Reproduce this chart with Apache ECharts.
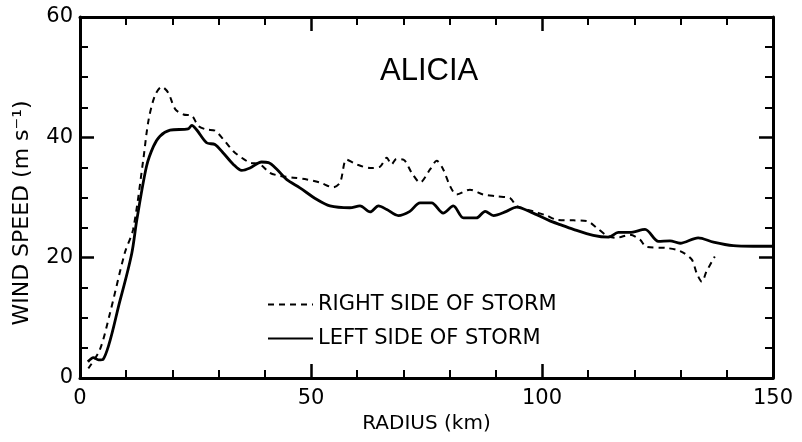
<!DOCTYPE html>
<html>
<head>
<meta charset="utf-8">
<script src="https://cdn.jsdelivr.net/npm/echarts@6/dist/echarts.min.js"></script>
<style>html,body{margin:0;padding:0;background:#fff;}#c{width:802px;height:442px;}</style>
</head>
<body>
<div id="c"></div>
<script>
const titleText = 'ALICIA';
const xTitle = 'RADIUS (km)';
const yTitle = 'WIND SPEED (m s\u207B\u00B9)';
const rightName = 'RIGHT SIDE OF STORM';
const leftName = 'LEFT SIDE OF STORM';

const rightX = [1.8,4.3,6.5,9.7,11.5,13.7,14.8,16.2,17.7,19.1,20.6,22.4,24.2,25.6,27.4,29.2,31,33.2,35,36.8,39,41.1,43.3,46.2,49.1,51.9,54.8,56.3,57.7,59.9,62.8,64.9,66.4,67.4,68.5,70,71.8,73.6,75.8,77.2,78.6,80.1,81.5,84.4,87.3,90.2,93.1,94.5,98.1,101,103.2,106.8,109.7,111.8,114,116.1,119,121.2,122.6,127,129.9,132.4,133.5,134.6,135.6,137.4];
const rightY = [1.6,4.7,10.8,20.8,24.7,36.3,42.7,46.9,48.4,47.4,44.7,43.8,43.6,41.9,41.3,41.1,39.7,37.7,36.6,35.8,35.5,34.1,33.6,33.3,33,32.5,31.7,32.5,36.3,35.5,34.9,35.1,36.6,35.5,36.4,36.3,34.1,32.5,34.7,36.1,34.7,31.9,30.5,31.3,30.5,30.2,29.9,28.6,27.7,27,26.3,26.2,26.1,25,23.7,23.3,23.8,23,21.8,21.6,21.1,19.7,17.4,16,17.7,20.2];

const leftX = [1.7,2.9,4,5,8.7,11.2,12.3,14.4,15.9,17.3,19.5,23.4,24.2,25.2,27.4,29.2,31,33.2,35,36.8,39.3,40.8,42.6,44.7,47.6,51.2,54.1,58.4,60.6,62.8,64.6,66.4,68.9,71.4,73.6,76.1,78.6,80.8,83,85.8,87.7,89.5,92.3,94.5,98.1,101.5,103.9,106.8,111.1,114.4,116.5,119,122.3,125.2,127.7,129.9,133.8,137.1,141.4,145.7,150];
const leftY = [2.7,3.4,3,3.1,13,20.7,26.3,35.2,38.5,40.2,41.2,41.4,42,41.3,39.1,38.8,37.4,35.5,34.5,34.9,35.9,35.8,34.7,33,31.6,29.7,28.6,28.3,28.6,27.6,28.6,28,27,27.7,29.1,29.1,27.4,28.6,26.6,26.6,27.7,27,27.7,28.4,27.4,26.2,25.5,24.7,23.7,23.4,24.2,24.2,24.7,22.7,22.8,22.4,23.3,22.6,22,21.9,21.9];

const xTicks = {min: 0, max: 150, interval: 50};
const yTicks = {min: 0, max: 60, interval: 20};

const FONT = 'DejaVu Sans';
const rightData = rightX.map((x, i) => [x, rightY[i]]);
const leftData = leftX.map((x, i) => [x, leftY[i]]);

function axisCommon(showLabel, minorSplit, margin) {
  return {
    axisLine: {show: true, onZero: false, lineStyle: {color: '#000', width: 3}},
    axisTick: {show: true, inside: true, length: 14, lineStyle: {color: '#000', width: 2.5}},
    minorTick: {show: true, splitNumber: minorSplit, length: 8, lineStyle: {color: '#000', width: 2}},
    splitLine: {show: false},
    axisLabel: {show: showLabel, color: '#000', fontSize: 21, fontFamily: FONT, margin: margin}
  };
}

const chart = echarts.init(document.getElementById('c'));
chart.setOption({
  animation: false,
  backgroundColor: '#fff',
  grid: {left: 80, right: 29, top: 17, bottom: 64},
  graphic: [
    {type: 'text', left: 380, top: 56,
      style: {text: titleText, fontSize: 31, fontFamily: 'Liberation Sans', fill: '#000'}},
    {type: 'text', x: 22, y: 213, rotation: Math.PI / 2,
      style: {text: yTitle, fontSize: 22, fontFamily: FONT, fill: '#000', align: 'center', verticalAlign: 'middle'}}
  ],
  legend: {
    orient: 'vertical', left: 262, top: 289, itemWidth: 45, itemHeight: 14, itemGap: 13,
    itemStyle: {opacity: 0},
    textStyle: {color: '#000', fontSize: 21, fontFamily: FONT},
    data: [rightName, leftName]
  },
  xAxis: [
    Object.assign({type: 'value', position: 'bottom', min: xTicks.min, max: xTicks.max, interval: xTicks.interval,
      name: xTitle, nameLocation: 'middle', nameGap: 36,
      nameTextStyle: {color: '#000', fontSize: 20, fontFamily: FONT}}, axisCommon(true, 5, 10)),
    Object.assign({type: 'value', position: 'top', min: xTicks.min, max: xTicks.max, interval: xTicks.interval}, axisCommon(false, 5, 10))
  ],
  yAxis: [
    Object.assign({type: 'value', position: 'left', min: yTicks.min, max: yTicks.max, interval: yTicks.interval}, axisCommon(true, 4, 7)),
    Object.assign({type: 'value', position: 'right', min: yTicks.min, max: yTicks.max, interval: yTicks.interval}, axisCommon(false, 4, 7))
  ],
  series: [
    {name: rightName, type: 'line', data: rightData, symbol: 'none', smooth: 0.3,
      lineStyle: {color: '#000', width: 2, type: [6, 5]}, itemStyle: {color: '#000'}},
    {name: leftName, type: 'line', data: leftData, symbol: 'none', smooth: 0.3,
      lineStyle: {color: '#000', width: 2.8, type: 'solid'}, itemStyle: {color: '#000'}}
  ]
});
</script>
</body>
</html>
